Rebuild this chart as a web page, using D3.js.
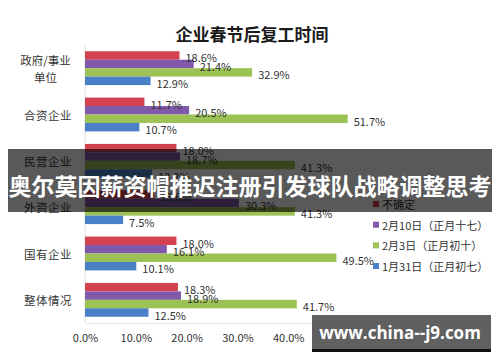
<!DOCTYPE html>
<html><head><meta charset="utf-8">
<script src="https://cdn.jsdelivr.net/npm/d3@7"></script>
<style>body{margin:0;background:#fff;} svg{display:block;}</style>
</head><body>
<svg id="c" width="500" height="362"></svg>
<script>
const title = "企业春节后复工时间";
const categories = ["政府/事业单位", "合资企业", "民营企业", "外资企业", "国有企业", "整体情况"];
const seriesNames = ["不确定", "2月10日（正月十七）", "2月3日（正月初十）", "1月31日（正月初七）"];
const seriesColors = ["#d2434f", "#8059ab", "#9cc155", "#4a80c6"];
const uncertain = [18.6, 11.7, 18.0, 13.6, 18.0, 18.3];
const feb10 = [21.4, 20.5, 18.7, 30.3, 16.1, 18.9];
const feb3 = [32.9, 51.7, 41.3, 41.3, 49.5, 41.7];
const jan31 = [12.9, 10.7, 13.2, 7.5, 10.1, 12.5];
const xTicks = [0, 10, 20, 30, 40, 50];
const bannerText = "奥尔莫因薪资帽推迟注册引发球队战略调整思考";
const watermark = "www.china--j9.com";

const seriesValues = [uncertain, feb10, feb3, jan31];
const font = "'Noto Sans CJK SC','Noto Sans',sans-serif";
const svg = d3.select("#c");

const x = d3.scaleLinear().domain([0, 50]).range([85, 339]);
const y = d3.scaleBand().domain(categories).range([45, 323]).paddingInner(0.27).paddingOuter(0.135);
const ys = d3.scaleBand().domain(d3.range(4)).range([0, y.bandwidth()]);

// title
svg.append("text").attr("x", 252).attr("y", 33).attr("text-anchor", "middle")
  .attr("dominant-baseline", "central").attr("font-family", font).attr("font-weight", "bold")
  .attr("font-size", 17).attr("fill", "#1a1a1a").text(title);

// axes lines
svg.append("line").attr("x1", x(0)).attr("x2", x(0)).attr("y1", 45).attr("y2", 323)
  .attr("stroke", "#e0e0e0");
const xa = svg.append("g").attr("transform", "translate(0,323)")
  .call(d3.axisBottom(x).tickValues(xTicks).tickSize(0).tickPadding(11).tickFormat(d => d.toFixed(1) + "%"));
xa.select(".domain").attr("stroke", "#e6e6e6");
xa.selectAll("text").attr("font-family", font).attr("font-size", 11).attr("fill", "#333");

// category labels
categories.forEach(c => {
  const cy = y(c) + y.bandwidth() / 2;
  const g = svg.append("text").attr("font-family", font).attr("font-size", 11.5).attr("fill", "#333")
    .attr("dominant-baseline", "central");
  if (c === "政府/事业单位") {
    g.attr("x", 45.5).attr("text-anchor", "middle");
    g.append("tspan").attr("x", 45.5).attr("y", cy - 8).text("政府/事业");
    g.append("tspan").attr("x", 45.5).attr("y", cy + 9).text("单位");
  } else {
    g.attr("x", 72).attr("y", cy).attr("text-anchor", "end").attr("letter-spacing", 0.5).text(c);
  }
});

// bars
seriesValues.forEach((vals, si) => {
  const g = svg.append("g");
  g.selectAll("rect").data(vals).join("rect")
    .attr("x", x(0)).attr("y", (d, i) => y(categories[i]) + ys(si))
    .attr("width", d => x(d) - x(0)).attr("height", ys.bandwidth())
    .attr("fill", seriesColors[si]);
});
seriesValues.forEach((vals, si) => {
  svg.append("g").selectAll("text").data(vals).join("text")
    .attr("x", d => x(d) + 6).attr("y", (d, i) => y(categories[i]) + ys(si) + ys.bandwidth() / 2 + 2)
    .attr("dominant-baseline", "central").attr("font-family", font).attr("font-size", 11)
    .attr("fill", "#333").text(d => d.toFixed(1) + "%");
});

// legend
const legY = [204, 224.7, 245.4, 266];
seriesNames.forEach((n, i) => {
  svg.append("rect").attr("x", 373).attr("y", legY[i] - 3).attr("width", 6).attr("height", 6)
    .attr("fill", seriesColors[i]);
  svg.append("text").attr("x", 382).attr("y", legY[i]).attr("dominant-baseline", "central")
    .attr("font-family", font).attr("font-size", 11).attr("fill", "#333").text(n);
});

// banner overlay
svg.append("rect").attr("x", 8).attr("y", 149).attr("width", 484).attr("height", 63)
  .attr("fill", "#000").attr("opacity", 0.65);
svg.append("text").attr("x", 250).attr("y", 185).attr("text-anchor", "middle")
  .attr("dominant-baseline", "central").attr("font-family", font).attr("font-weight", "bold")
  .attr("font-size", 23).attr("fill", "#fff").text(bannerText);

// watermark
svg.append("rect").attr("x", 312).attr("y", 315).attr("width", 179).attr("height", 37).attr("fill", "#111");
svg.append("rect").attr("x", 312).attr("y", 315).attr("width", 179).attr("height", 34).attr("fill", "#606060");
svg.append("text").attr("x", 400).attr("y", 332).attr("text-anchor", "middle")
  .attr("dominant-baseline", "central").attr("font-family", "'Open Sans','DejaVu Sans',sans-serif")
  .attr("font-weight", "bold").attr("font-size", 17).attr("fill", "#fff").text(watermark);
</script>
</body></html>
